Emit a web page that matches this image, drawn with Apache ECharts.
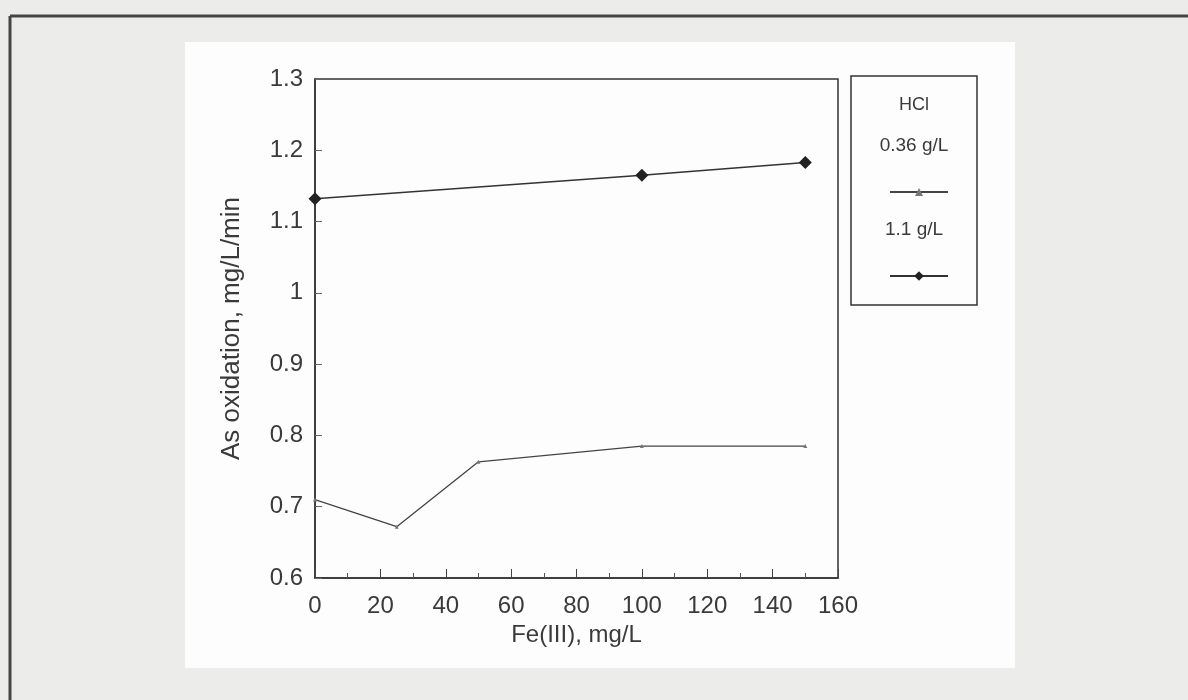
<!DOCTYPE html>
<html>
<head>
<meta charset="utf-8">
<script src="https://cdn.jsdelivr.net/npm/echarts@6/dist/echarts.min.js"></script>
<style>
html,body{margin:0;padding:0;background:#ececea;}
#c{width:1188px;height:700px;}
</style>
</head>
<body>
<div id="c"></div>
<script>
var seriesNames = ['0.36 g/L', '1.1 g/L'];
var legendTitle = 'HCl';
var xLow = [0, 25, 50, 100, 150];
var yLow = [0.71, 0.672, 0.763, 0.785, 0.785];
var xHigh = [0, 100, 150];
var yHigh = [1.132, 1.165, 1.183];
var xAxisName = 'Fe(III), mg/L';
var yAxisName = 'As oxidation, mg/L/min';

var FONT = '"Liberation Sans", Arial, sans-serif';
var ink = '#3a3a3a';

function pairs(xs, ys){ return xs.map(function(x,i){ return [x, ys[i]]; }); }

var chart = echarts.init(document.getElementById('c'), null, {renderer:'canvas'});
chart.setOption({
  backgroundColor: '#ececea',
  animation: false,
  textStyle: {fontFamily: FONT},
  grid: {left: 315, right: 350, top: 79, bottom: 122, show: true, borderColor: '#333', borderWidth: 1.5, backgroundColor: 'transparent'},
  graphic: [
    {type:'rect', z:-10, silent:true, shape:{x:185, y:42, width:830, height:626}, style:{fill:'#fdfdfd'}},
    {type:'line', z:-5, shape:{x1:10, y1:16, x2:1188, y2:16}, style:{stroke:'#444', lineWidth:3}},
    {type:'line', z:-5, shape:{x1:10, y1:16, x2:10, y2:700}, style:{stroke:'#444', lineWidth:3}},
    {type:'rect', shape:{x:851, y:76, width:126, height:229}, style:{fill:'#fdfdfd', stroke:'#333', lineWidth:1.5}},
    {type:'text', x:914, y:105, style:{text:legendTitle, font:'18px '+FONT, fill:ink, align:'center', verticalAlign:'middle'}},
    {type:'text', x:914, y:146, style:{text:seriesNames[0], font:'19px '+FONT, fill:ink, align:'center', verticalAlign:'middle'}},
    {type:'text', x:914, y:230, style:{text:seriesNames[1], font:'19px '+FONT, fill:ink, align:'center', verticalAlign:'middle'}}
  ],
  legend: [
    {data:[seriesNames[0]], left:884, top:182, itemWidth:58, itemHeight:10, itemGap:0, formatter:function(){return '';}, textStyle:{padding:0, width:0}, selectedMode:false},
    {data:[seriesNames[1]], left:884, top:265, itemWidth:58, itemHeight:12, itemGap:0, formatter:function(){return '';}, textStyle:{padding:0, width:0}, selectedMode:false}
  ],
  xAxis: {
    type: 'value', min: 0, max: 160, interval: 20,
    name: xAxisName, nameLocation: 'middle', nameGap: 42,
    nameTextStyle: {fontSize: 24, color: ink, fontFamily: FONT},
    axisLine: {show: true, lineStyle: {color: '#333', width: 1.5}},
    axisTick: {show: true, inside: true, length: 9, lineStyle: {color: '#444'}},
    minorTick: {show: true, splitNumber: 2, length: 5, lineStyle: {color: '#555'}},
    axisLabel: {fontSize: 24, color: ink, margin: 16, fontFamily: FONT},
    splitLine: {show: false}
  },
  yAxis: {
    type: 'value', min: 0.6, max: 1.3, interval: 0.1,
    name: yAxisName, nameLocation: 'middle', nameGap: 70, nameRotate: 90,
    nameTextStyle: {fontSize: 26, color: ink, fontFamily: FONT},
    axisLine: {show: true, lineStyle: {color: '#333', width: 1.5}},
    axisTick: {show: true, inside: true, length: 7, lineStyle: {color: '#666'}},
    axisLabel: {fontSize: 24, color: ink, margin: 12, fontFamily: FONT,
      formatter: function(v){ var r = Math.round(v*10)/10; return r === 1 ? '1' : r.toFixed(1); }},
    splitLine: {show: false}
  },
  series: [
    {name: seriesNames[0], type: 'line', data: pairs(xLow, yLow),
     symbol: 'triangle', symbolSize: 4, showSymbol: true,
     lineStyle: {color: '#444', width: 1.3}, itemStyle: {color: '#777'}},
    {name: seriesNames[1], type: 'line', data: pairs(xHigh, yHigh),
     symbol: 'diamond', symbolSize: 13, showSymbol: true,
     lineStyle: {color: '#333', width: 1.5}, itemStyle: {color: '#222'}}
  ]
});
</script>
</body>
</html>
